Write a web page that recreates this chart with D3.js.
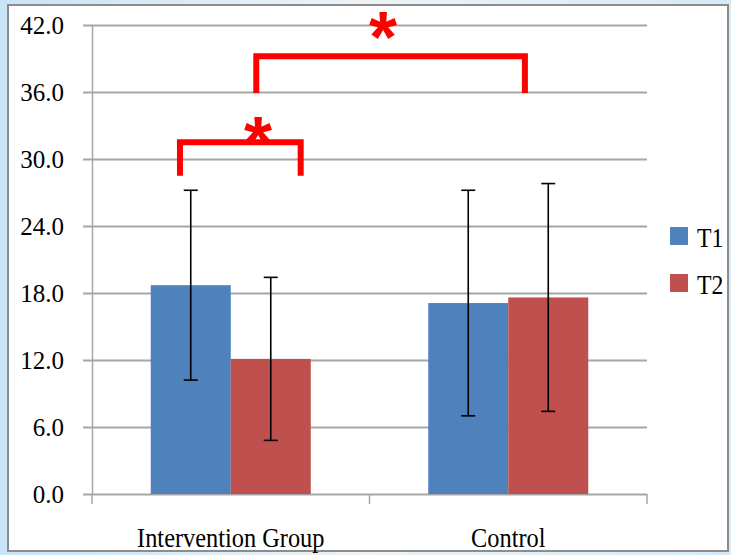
<!DOCTYPE html>
<meta charset="utf-8">
<style>
  body { margin: 0; background: #d3e8f7; }
  svg { display: block; }
  text { font-family: "Liberation Serif", "Times New Roman", serif; fill: #000; }
</style>
<svg width="731" height="555"></svg>
<script src="https://d3js.org/d3.v7.min.js"></script>
<script>

var categories = ["Intervention Group", "Control"],
    series = ["T1", "T2"],
    colors = ["#4f81bd", "#c0504d"];

var t1Mean = [18.7, 17.1],
    t1Sd   = [8.5, 10.1],
    t2Mean = [12.1, 17.6],
    t2Sd   = [7.3, 10.2];

var yTicks = [0, 6, 12, 18, 24, 30, 36, 42];

// significance brackets, x in category units (0..2), y in data units
var brackets = [
  { x0: 0.317, x1: 0.752, top: 31.5, bottom: 28.5, starX: 0.598, starY: 32.6 },
  { x0: 0.592, x1: 1.56,  top: 39.2, bottom: 35.9, starX: 1.049, starY: 42.0 }
];

var svg = d3.select("svg"),
    plotLeft = 92, plotRight = 647, plotTop = 25, plotBottom = 494;

// panel
var bg = svg.append("defs").append("linearGradient").attr("id", "bg")
  .attr("x1", 0).attr("x2", 1).attr("y1", 0).attr("y2", 0);
bg.append("stop").attr("offset", "0").attr("stop-color", "#c9e4f6");
bg.append("stop").attr("offset", "0.5").attr("stop-color", "#eef3f6");
bg.append("stop").attr("offset", "1").attr("stop-color", "#d6eaf7");
svg.append("rect").attr("width", 731).attr("height", 555).attr("fill", "url(#bg)");
svg.append("rect").attr("x", 8).attr("y", 5).attr("width", 720).attr("height", 546)
  .attr("fill", "#fff").attr("stroke", "#8c8c8c").attr("stroke-width", 2);

var y = d3.scaleLinear().domain([0, 42]).range([plotBottom, plotTop]);
var x0 = d3.scaleBand().domain(categories).range([plotLeft, plotRight]);
var x1 = d3.scaleBand().domain(series).range([0, x0.bandwidth()]).paddingOuter(0.734);
var xc = d3.scaleLinear().domain([0, 2]).range([plotLeft, plotRight]);

// gridlines
svg.append("g").selectAll("line").data(yTicks).join("line")
  .attr("x1", plotLeft - 9).attr("x2", plotRight)
  .attr("y1", function(d) { return Math.round(y(d)) + 0.5; })
  .attr("y2", function(d) { return Math.round(y(d)) + 0.5; })
  .attr("stroke", "#a6a6a6").attr("stroke-width", 2);

// y axis
var yAxis = svg.append("g").attr("transform", "translate(" + plotLeft + ",0)")
  .call(d3.axisLeft(y).tickValues(yTicks).tickSize(0).tickPadding(28)
    .tickFormat(d3.format(".1f")));
yAxis.select(".domain").attr("stroke", "#a6a6a6").attr("stroke-width", 1.5);
yAxis.selectAll("text").attr("font-size", 25).attr("dy", "0.34em")
  .style("font-family", "'Liberation Serif', serif");

// x category ticks
svg.append("g").selectAll("line").data([0, 1, 2]).join("line")
  .attr("x1", function(d) { return xc(d); }).attr("x2", function(d) { return xc(d); })
  .attr("y1", plotBottom).attr("y2", plotBottom + 10)
  .attr("stroke", "#a6a6a6").attr("stroke-width", 1.5);

svg.append("g").selectAll("text").data(categories).join("text")
  .attr("transform", function(d) {
    return "translate(" + (x0(d) + x0.bandwidth() / 2) + "," + (plotBottom + 53) + ") scale(0.87,1)";
  })
  .attr("text-anchor", "middle").attr("font-size", 28)
  .text(function(d) { return d; });

// bars
var rows = categories.map(function(c, i) {
  return [
    { cat: c, s: "T1", v: t1Mean[i], sd: t1Sd[i], color: colors[0] },
    { cat: c, s: "T2", v: t2Mean[i], sd: t2Sd[i], color: colors[1] }
  ];
}).flat();

svg.append("g").selectAll("rect").data(rows).join("rect")
  .attr("x", function(d) { return x0(d.cat) + x1(d.s); })
  .attr("width", x1.bandwidth())
  .attr("y", function(d) { return y(d.v); })
  .attr("height", function(d) { return y(0) - y(d.v); })
  .attr("fill", function(d) { return d.color; });

// error bars
var eb = svg.append("g").attr("stroke", "#000").attr("stroke-width", 1.6)
  .selectAll("g").data(rows).join("g")
  .attr("transform", function(d) {
    return "translate(" + (x0(d.cat) + x1(d.s) + x1.bandwidth() / 2) + ",0)";
  });
eb.append("line").attr("y1", function(d) { return y(d.v + d.sd); })
  .attr("y2", function(d) { return y(d.v - d.sd); });
eb.append("line").attr("x1", -7).attr("x2", 7)
  .attr("y1", function(d) { return y(d.v + d.sd); }).attr("y2", function(d) { return y(d.v + d.sd); });
eb.append("line").attr("x1", -7).attr("x2", 7)
  .attr("y1", function(d) { return y(d.v - d.sd); }).attr("y2", function(d) { return y(d.v - d.sd); });

// legend
var legend = svg.append("g").selectAll("g").data(series).join("g")
  .attr("transform", function(d, i) { return "translate(670," + (227 + i * 47) + ")"; });
legend.append("rect").attr("width", 18).attr("height", 18)
  .attr("fill", function(d, i) { return colors[i]; });
legend.append("text").attr("transform", "translate(27,20) scale(0.85,1)")
  .attr("font-size", 28).style("font-family", "'Liberation Serif', serif")
  .text(function(d) { return d; });

// significance brackets
var br = svg.append("g").selectAll("g").data(brackets).join("g");
br.append("path")
  .attr("d", function(d) {
    return "M" + xc(d.x0) + "," + y(d.bottom) + "V" + y(d.top) + "H" + xc(d.x1) + "V" + y(d.bottom);
  })
  .attr("fill", "none").attr("stroke", "#ff0000").attr("stroke-width", 6)
  .attr("stroke-linejoin", "miter");
br.append("text")
  .attr("x", function(d) { return xc(d.starX); })
  .attr("y", function(d) { return y(d.starY) + 37; })
  .attr("text-anchor", "middle")
  .style("font-family", "Liberation Sans").style("font-weight", "bold")
  .attr("font-size", 72).style("fill", "#ff0000")
  .text("*");

</script>
